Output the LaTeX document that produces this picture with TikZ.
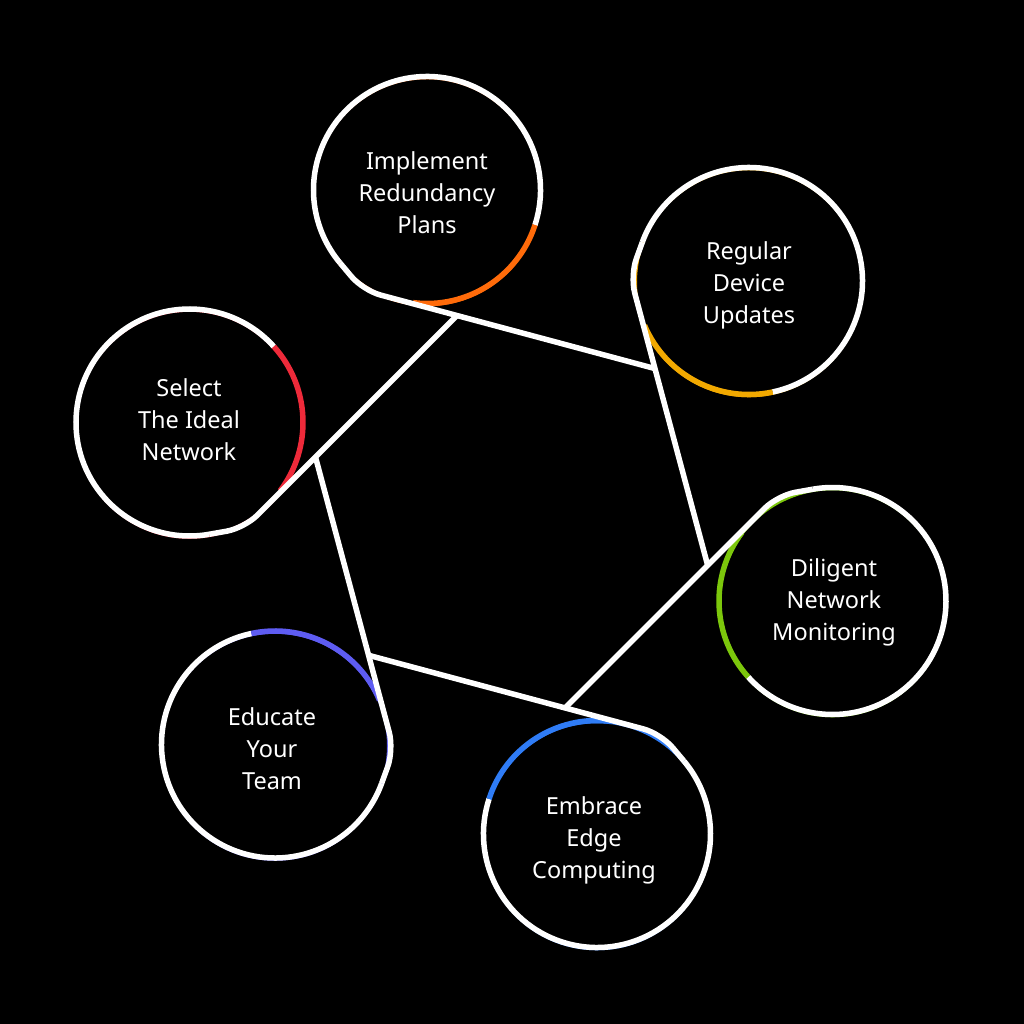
\documentclass[tikz,border=0pt]{standalone}
\usepackage{fontspec}
\setmainfont{Noto Sans}
\usetikzlibrary{calc}
\definecolor{corange}{HTML}{FF6B0A}
\definecolor{camber}{HTML}{F2A900}
\definecolor{cgreen}{HTML}{7CC70C}
\definecolor{cblue}{HTML}{2F7CF6}
\definecolor{cindigo}{HTML}{5E5CF2}
\definecolor{cred}{HTML}{EE2A3A}
\newdimen\pxa \newdimen\pya \newdimen\pxb \newdimen\pyb
\begin{document}
\begin{tikzpicture}[x=1pt,y=1pt,
  ring/.style={draw=white, line width=5.5pt},
  accent/.style={line width=5.5pt},
  halo/.style={line width=3pt},
  txtstyle/.style={text=white, align=center, font=\fontsize{23.5}{32}\selectfont},
]
\fill[black] (-512,-512) rectangle (512,512);
\useasboundingbox (-512,-512) rectangle (512,512);
\def\r{113.5}
% circle centres and tangent points
\foreach \k/\cx/\cy in {0/-85/322, 1/237/231, 2/320.5/-89, 3/85/-322, 4/-237/-232.5, 5/-322.5/89.5}{
  \pgfmathsetmacro\ta{105-60*\k-210}
  \coordinate (C\k) at (\cx,\cy);
  \coordinate (T\k) at ($(C\k)+(\ta:\r)$);
}
\foreach \k/\col in {0/corange, 1/camber, 2/cgreen, 3/cblue, 4/cindigo, 5/cred}{
  \pgfmathtruncatemacro\nx{mod(\k+1,6)}
  \pgfmathsetmacro\ta{105-60*\k-210}
  \pgfmathsetmacro\ud{\ta+90}
  \pgfmathsetmacro\un{\ud-60}
  \pgfextractx{\pxa}{\pgfpointanchor{T\k}{center}}
  \pgfextracty{\pya}{\pgfpointanchor{T\k}{center}}
  \pgfextractx{\pxb}{\pgfpointanchor{T\nx}{center}}
  \pgfextracty{\pyb}{\pgfpointanchor{T\nx}{center}}
  \pgfmathsetmacro\sl{((\pxb-\pxa)*sin(\un)-(\pyb-\pya)*cos(\un))/(-0.8660254)}
  \pgfmathsetmacro\ws{\ta+87}
  \pgfmathsetmacro\we{\ta+325}
  \pgfmathsetmacro\cs{\ta+8}
  \pgfmathsetmacro\bk{\ta-35}
  \pgfmathsetmacro\kk{\ta-17.5}
  \pgfmathsetmacro\kr{\r/cos(17.5)}
  \coordinate (E\k) at ($(T\k)+(\ud:\sl)$);
  \coordinate (B\k) at ($(C\k)+(\bk:\r)$);
  \coordinate (K\k) at ($(C\k)+(\kk:\kr)$);
  \coordinate (W\k) at ($(C\k)+(\ws:\r)$);
  \coordinate (S\k) at ($(C\k)+(\cs:\r)$);
  % faint coloured halo beneath
  \draw[halo, \col] ($(C\k)+(0,-1.3)$) circle[radius=\r];
  % white ring part
  \draw[ring] (W\k) arc[start angle=\ws, end angle=\we, radius=\r];
  % coloured accent arc
  \draw[accent, \col] (S\k) arc[start angle=\cs, end angle=\ws, radius=\r];
  % tail to the next line
  \draw[ring, rounded corners=18pt] (B\k) -- (K\k) -- (E\k);
}
\node[txtstyle] (L0) at (-85,319) {Implement\\Redundancy\\Plans};
\node[txtstyle] (L1) at (237,227) {Regular\\Device\\Updates};
\node[txtstyle] (L2) at (322,-90) {Diligent\\Network\\Monitoring};
\node[txtstyle] (L3) at (82,-328) {Embrace\\Edge\\Computing};
\node[txtstyle] (L4) at (-240,-237) {Educate\\Your\\Team};
\node[txtstyle] (L5) at (-323,92) {Select\\The Ideal\\Network};
\end{tikzpicture}
\end{document}
